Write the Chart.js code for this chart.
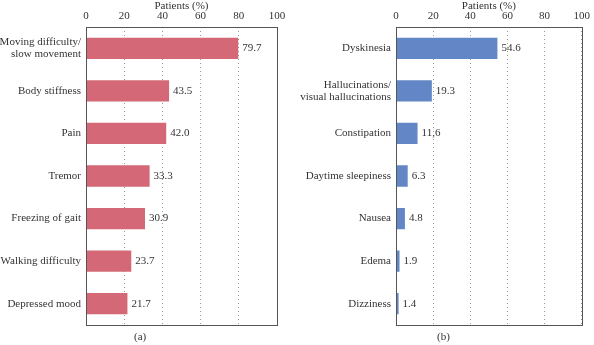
<!DOCTYPE html>
<html>
<head>
<meta charset="utf-8">
<script src="https://cdn.jsdelivr.net/npm/chart.js@4.4.0/dist/chart.umd.min.js"></script>
<style>
  body { margin: 0; background: #fff; width: 594px; height: 345px; position: relative; overflow: hidden; }
  .box { position: absolute; top: 0; height: 345px; }
  .cap { position: absolute; top: 330px; font: 11px "Liberation Serif", serif; color: #333; }
</style>
</head>
<body>
<div class="box" style="left:0;width:300px"><canvas id="chartA"></canvas></div>
<div class="box" style="left:300px;width:294px"><canvas id="chartB"></canvas></div>
<div class="cap" style="left:134px">(a)</div>
<div class="cap" style="left:437px">(b)</div>
<script>
var symptomLabels = [
  ['Moving difficulty/', 'slow movement'],
  'Body stiffness',
  'Pain',
  'Tremor',
  'Freezing of gait',
  'Walking difficulty',
  'Depressed mood'
];
var symptomValues = [79.7, 43.5, 42.0, 33.3, 30.9, 23.7, 21.7];
var symptomText = ['79.7', '43.5', '42.0', '33.3', '30.9', '23.7', '21.7'];

var sideLabels = [
  'Dyskinesia',
  ['Hallucinations/', 'visual hallucinations'],
  'Constipation',
  'Daytime sleepiness',
  'Nausea',
  'Edema',
  'Dizziness'
];
var sideValues = [54.6, 19.3, 11.6, 6.3, 4.8, 1.9, 1.4];
var sideText = ['54.6', '19.3', '11,6', '6.3', '4.8', '1.9', '1.4'];

var xTicks = [0, 20, 40, 60, 80, 100];

var serif = '"Liberation Serif", "DejaVu Serif", serif';

// value text after each bar + frame round the plot area
var barText = {
  id: 'barText',
  afterDatasetsDraw: function (chart, args, opts) {
    var ctx = chart.ctx;
    ctx.save();
    ctx.font = '11px ' + serif;
    ctx.fillStyle = '#333';
    ctx.textBaseline = 'middle';
    chart.getDatasetMeta(0).data.forEach(function (bar, i) {
      ctx.fillText(opts.text[i], bar.x + 4, bar.y);
    });
    var a = chart.chartArea;
    ctx.strokeStyle = '#555';
    ctx.lineWidth = 1;
    ctx.strokeRect(Math.round(a.left) + 0.5, Math.round(a.top) + 0.5,
      Math.round(a.right - a.left), Math.round(a.bottom - a.top));
    ctx.restore();
  }
};

function makeChart(id, labels, values, text, color, yWidth, padRight) {
  return new Chart(document.getElementById(id), {
    type: 'bar',
    data: {
      labels: labels,
      datasets: [{
        data: values,
        backgroundColor: color,
        borderWidth: 0,
        categoryPercentage: 1,
        barPercentage: 0.5
      }]
    },
    plugins: [barText],
    options: {
      indexAxis: 'y',
      responsive: true,
      maintainAspectRatio: false,
      animation: false,
      layout: { padding: { left: 0, right: padRight, top: 0, bottom: 20 } },
      plugins: {
        legend: { display: false },
        tooltip: { enabled: false },
        barText: { text: text }
      },
      scales: {
        x: {
          position: 'top',
          min: 0,
          max: 100,
          afterBuildTicks: function (scale) {
            scale.ticks = xTicks.map(function (v) { return { value: v }; });
          },
          afterFit: function (scale) { scale.height = 27; },
          border: { display: false, dash: [1, 3] },
          grid: {
            color: '#999',
            drawTicks: false
          },
          ticks: {
            padding: 4,
            color: '#333',
            font: { family: serif, size: 11 }
          },
          title: {
            display: true,
            text: 'Patients (%)',
            color: '#333',
            padding: { top: 0, bottom: 1 },
            font: { family: serif, size: 11 }
          }
        },
        y: {
          afterFit: function (scale) { scale.width = yWidth; },
          border: { display: false },
          grid: { display: false, drawTicks: false },
          ticks: {
            padding: 5,
            color: '#333',
            font: { family: serif, size: 11, lineHeight: 1.1 }
          }
        }
      }
    }
  });
}

makeChart('chartA', symptomLabels, symptomValues, symptomText, '#d46876', 86, 23);
makeChart('chartB', sideLabels, sideValues, sideText, '#6387c6', 96, 8);
</script>
</body>
</html>
